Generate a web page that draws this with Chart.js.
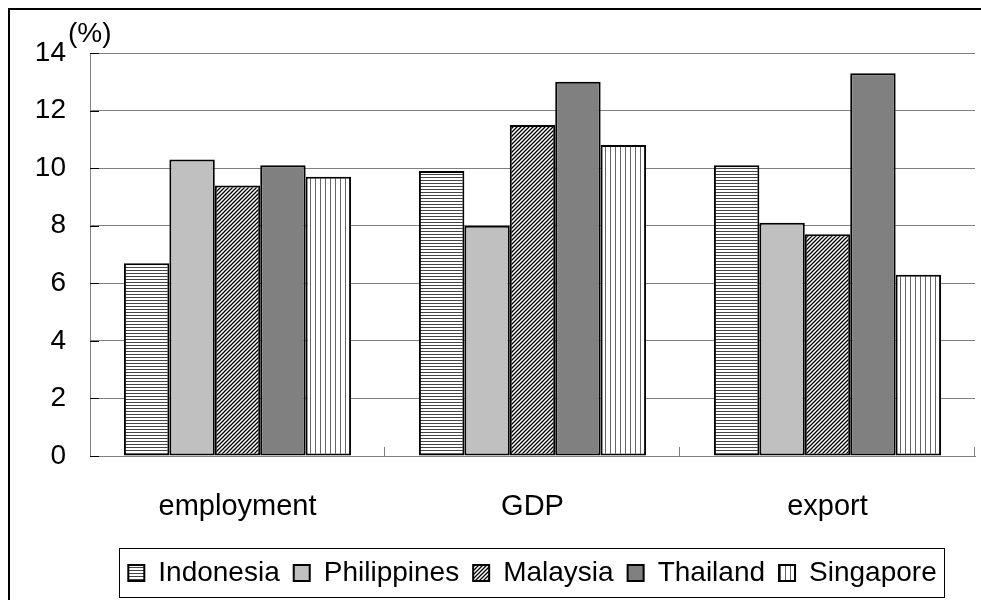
<!DOCTYPE html>
<html>
<head>
<meta charset="utf-8">
<script src="https://cdn.jsdelivr.net/npm/chart.js@4.4.0/dist/chart.umd.min.js"></script>
<style>
  html, body { margin: 0; padding: 0; background: #fff; }
  #wrap { width: 981px; height: 600px; }
</style>
</head>
<body>
<div id="wrap"><canvas id="chart" width="981" height="600"></canvas></div>
<script>
const categories = ['employment', 'GDP', 'export'];
const countries = ['Indonesia', 'Philippines', 'Malaysia', 'Thailand', 'Singapore'];
const indonesia = [6.7, 9.9, 10.1];
const philippines = [10.3, 8.0, 8.1];
const malaysia = [9.4, 11.5, 7.7];
const thailand = [10.1, 13.0, 13.3];
const singapore = [9.7, 10.8, 6.3];
const yMin = 0;
const yMax = 14;
const yStep = 2;
const unitLabel = '(%)';

const FONT = '"Liberation Sans", Arial, sans-serif';

// small tiles used as fills for the hatched bars
function makePattern(kind) {
  const c = document.createElement('canvas');
  const g = c.getContext('2d');
  if (kind === 'horizontal') {
    c.width = 4; c.height = 3;
    g.fillStyle = '#fff'; g.fillRect(0, 0, 4, 3);
    g.fillStyle = '#444'; g.fillRect(0, 0, 4, 1);
  } else if (kind === 'vertical') {
    c.width = 5; c.height = 4;
    g.fillStyle = '#fff'; g.fillRect(0, 0, 5, 4);
    g.fillStyle = '#666'; g.fillRect(0, 0, 1, 4);
  } else if (kind === 'diagonal') {
    c.width = 4; c.height = 4;
    g.fillStyle = '#fff'; g.fillRect(0, 0, 4, 4);
    g.strokeStyle = '#000'; g.lineWidth = 1.3;
    g.beginPath();
    g.moveTo(-1, 5); g.lineTo(5, -1);
    g.moveTo(-1, 1); g.lineTo(1, -1);
    g.moveTo(3, 5); g.lineTo(5, 3);
    g.stroke();
  }
  return g.createPattern(c, 'repeat');
}

const fills = [
  makePattern('horizontal'),
  '#c0c0c0',
  makePattern('diagonal'),
  '#808080',
  makePattern('vertical'),
];
const seriesValues = [indonesia, philippines, malaysia, thailand, singapore];

const datasets = countries.map((name, i) => ({
  label: name,
  data: seriesValues[i],
  backgroundColor: fills[i],
  borderColor: '#000',
  borderWidth: 2,
  borderSkipped: false,
  categoryPercentage: 0.77,
  barPercentage: 1.0,
}));

// frame, unit label, inward tick marks and the box round the legend
const decorations = {
  id: 'decorations',
  afterDraw(chart) {
    const { ctx, chartArea, scales: { y } } = chart;
    ctx.save();

    ctx.strokeStyle = '#000';
    ctx.lineWidth = 2;
    ctx.strokeRect(9, 9, 1000, 700);

    ctx.fillStyle = '#000';
    ctx.font = '28px ' + FONT;
    ctx.textBaseline = 'alphabetic';
    ctx.textAlign = 'left';
    ctx.fillText(unitLabel, chartArea.left - 22, y.getPixelForValue(yMax) - 11);

    ctx.lineWidth = 1;
    ctx.strokeStyle = '#000';
    for (let v = yMin; v <= yMax; v += yStep) {
      const py = Math.round(y.getPixelForValue(v)) + 0.5;
      ctx.beginPath();
      ctx.moveTo(chartArea.left, py);
      ctx.lineTo(chartArea.left + 9, py);
      ctx.stroke();
    }

    ctx.strokeStyle = '#808080';
    const step = (chartArea.right - chartArea.left) / categories.length;
    for (let k = 1; k <= categories.length; k++) {
      const px = Math.round(chartArea.left + k * step) - 0.5;
      ctx.beginPath();
      ctx.moveTo(px, chartArea.bottom);
      ctx.lineTo(px, chartArea.bottom - 9);
      ctx.stroke();
    }

    const boxes = chart.legend.legendHitBoxes;
    if (boxes && boxes.length) {
      const left = Math.min(...boxes.map(b => b.left)) - 9;
      const right = Math.max(...boxes.map(b => b.left + b.width)) + 8;
      const top = Math.min(...boxes.map(b => b.top)) - 11;
      const bottom = Math.max(...boxes.map(b => b.top + b.height)) + 11;
      ctx.strokeStyle = '#000';
      ctx.strokeRect(Math.round(left) + 0.5, Math.round(top) + 0.5,
        Math.round(right - left), Math.round(bottom - top) - 1);
    }
    ctx.restore();
  },
};

new Chart(document.getElementById('chart'), {
  type: 'bar',
  data: { labels: categories, datasets },
  plugins: [decorations],
  options: {
    responsive: false,
    animation: false,
    layout: { padding: { left: 9, right: 6, top: 53, bottom: 3 } },
    plugins: {
      tooltip: { enabled: false },
      legend: {
        position: 'bottom',
        fullSize: false,
        labels: {
          boxWidth: 16,
          boxHeight: 16,
          padding: 14,
          color: '#000',
          font: { family: FONT, size: 28 },
        },
      },
    },
    scales: {
      x: {
        grid: { display: false, drawTicks: false },
        border: { color: '#808080', width: 1 },
        ticks: { color: '#000', font: { family: FONT, size: 29 }, padding: 34 },
        afterFit: s => { s.height = 89; },
      },
      y: {
        min: yMin,
        max: yMax,
        ticks: { stepSize: yStep, color: '#000', font: { family: FONT, size: 28 }, padding: 24 },
        grid: { color: '#808080', lineWidth: 1, drawTicks: false },
        border: { color: '#808080', width: 1 },
        afterFit: s => { s.width = 81; },
      },
    },
  },
});
</script>
</body>
</html>
